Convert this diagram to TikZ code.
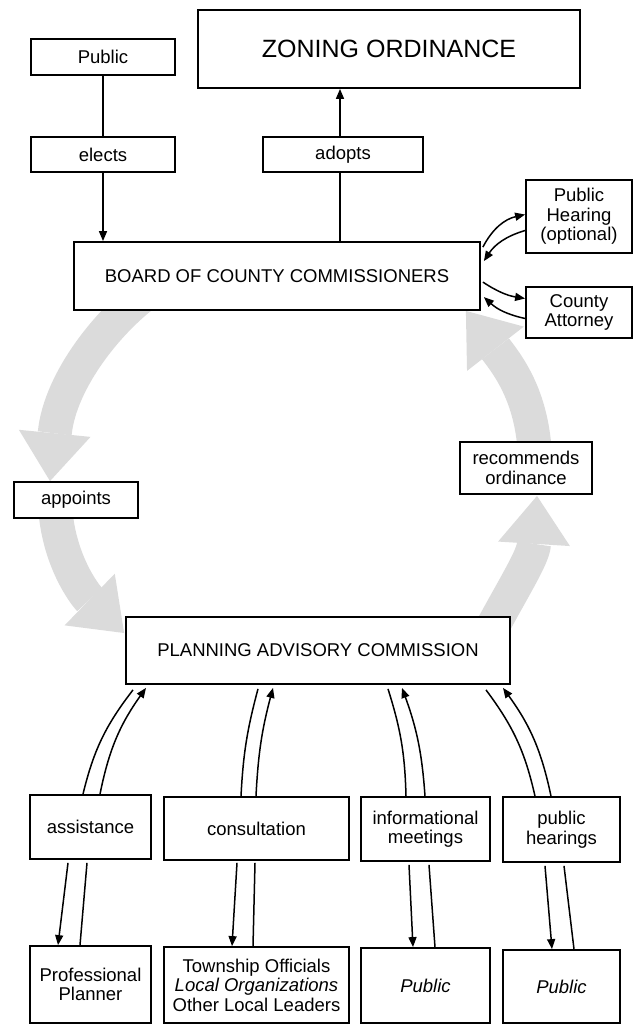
\documentclass[tikz,border=0pt]{standalone}
\usepackage{fontspec}
\setmainfont{Liberation Sans}
\usetikzlibrary{arrows.meta,backgrounds}
\begin{document}
\begin{tikzpicture}[x=1pt,y=-1pt,
  box/.style={draw,line width=1.8pt,fill=white,align=center,inner sep=0pt,font=\fontsize{18.5}{19.5}\selectfont},
  conn/.style={line width=1.5pt},
  arr/.style={conn,-{Triangle[length=10pt,width=8pt]}},
  band/.style={draw=gray!28,line width=34pt,-{Triangle[length=48pt,width=72pt,line width=0pt]}}
]
\useasboundingbox (0,0) rectangle (634,1026);
% top
\node[box,minimum width=144pt,minimum height=36pt] (pub) at (103,57) {Public};
\node[box,minimum width=382pt,minimum height=78pt,font=\fontsize{25}{26}\selectfont] (zon) at (389,49) {ZONING ORDINANCE};
\node[box,minimum width=144pt,minimum height=35pt] (elects) at (103,154.5) {elects};
\node[box,minimum width=160pt,minimum height=35pt] (adopts) at (343,154.5) {adopts};
\node[box,minimum width=406pt,minimum height=68pt] (board) at (277,276) {BOARD OF COUNTY COMMISSIONERS};
\node[box,minimum width=106pt,minimum height=73pt] (ph) at (579,216.5) {Public\\Hearing\\(optional)};
\node[box,minimum width=106pt,minimum height=51pt] (ca) at (579,312.5) {County\\Attorney};
% middle
\node[box,minimum width=124pt,minimum height=36pt] (appoints) at (76,500) {appoints};
\node[box,minimum width=132pt,minimum height=52pt] (rec) at (526,468) {recommends\\ordinance};
\node[box,minimum width=384pt,minimum height=67pt] (pac) at (318,650.5) {PLANNING ADVISORY COMMISSION};
% lower
\node[box,minimum width=121pt,minimum height=64pt] (assist) at (90.5,827) {assistance};
\node[box,minimum width=185pt,minimum height=63pt] (consult) at (256.5,828.5) {consultation};
\node[box,minimum width=129pt,minimum height=64pt] (info) at (425.5,829) {informational\\meetings};
\node[box,minimum width=117pt,minimum height=65pt] (pubhear) at (561.5,829.5) {public\\hearings};
\node[box,minimum width=121pt,minimum height=77pt] (pp) at (90.5,984.5) {Professional\\Planner};
\node[box,minimum width=185pt,minimum height=76pt] (town) at (256.5,985) {Township Officials\\\textit{Local Organizations}\\Other Local Leaders};
\node[box,minimum width=129pt,minimum height=75pt] (pub3) at (425.5,985.5) {\textit{Public}};
\node[box,minimum width=117pt,minimum height=73pt] (pub4) at (561.5,986.5) {\textit{Public}};

% shaded cycle arrows
\begin{scope}[on background layer]
\draw[band] ([shift={(-125,-22)}]board.south) .. controls (110,318) and (60,380) .. ([shift={(-26,0)}]appoints.north);
\draw[band] ([shift={(-21,5)}]appoints.center) .. controls (58,560) and (85,595) .. ([shift={(-1,-17.5)}]pac.west);
\draw[band] ([shift={(152,-15)}]pac.south) .. controls (505,600) and (533,560) .. ([shift={(11,1)}]rec.south);
\draw[band] ([shift={(9,-13)}]rec.center) .. controls (532,400) and (512,370) .. ([shift={(-15,0)}]board.south east);
\end{scope}

% top connectors
\draw[conn] (pub.south) -- (elects.north);
\draw[arr] (elects.south) -- (elects.south |- board.north);
\draw[conn] ([xshift=-3pt]adopts.south |- board.north) -- ([xshift=-3pt]adopts.south);
\draw[arr] ([xshift=-3pt]adopts.north) -- ([xshift=-3pt]adopts.north |- zon.south);
% side connectors
\draw[arr] ([shift={(2,6)}]board.north east) to[bend left=25] ([shift={(0,-2)}]ph.west);
\draw[arr] ([shift={(0,14)}]ph.west) to[bend right=20] ([shift={(3,20)}]board.north east);
\draw[arr] ([shift={(2,41)}]board.north east) to[bend right=12] ([shift={(0,-14)}]ca.west);
\draw[arr] ([shift={(0,6)}]ca.west) to[bend left=15] ([shift={(3,56)}]board.north east);

% assistance
\draw[conn] ([shift={(-7.5,0)}]assist.north) to[bend left=12] ([shift={(-185,5)}]pac.south);
\draw[arr] ([shift={(9.5,0)}]assist.north) to[bend left=12] ([shift={(-172,3)}]pac.south);
\draw[arr] ([shift={(-22.5,3)}]assist.south) -- ([shift={(-32.5,0)}]pp.north);
\draw[conn] ([shift={(-3.5,3)}]assist.south) -- ([shift={(-10.5,0)}]pp.north);
% consultation
\draw[conn] ([shift={(-15.5,0)}]consult.north) to[bend left=6] ([shift={(-60,4)}]pac.south);
\draw[arr] ([shift={(-0.5,0)}]consult.north) to[bend left=6] ([shift={(-45,3)}]pac.south);
\draw[arr] ([shift={(-19.5,2)}]consult.south) -- ([shift={(-24.5,0)}]town.north);
\draw[conn] ([shift={(-1.5,2)}]consult.south) -- ([shift={(-3.5,0)}]town.north);
% informational meetings
\draw[conn] ([shift={(-19.5,0)}]info.north) to[bend right=8] ([shift={(70,4)}]pac.south);
\draw[arr] ([shift={(-0.5,0)}]info.north) to[bend right=8] ([shift={(84,3)}]pac.south);
\draw[arr] ([shift={(-16.5,3)}]info.south) -- ([shift={(-12.5,0)}]pub3.north);
\draw[conn] ([shift={(3.5,3)}]info.south) -- ([shift={(9.5,0)}]pub3.north);
% public hearings
\draw[conn] ([shift={(-26.5,0)}]pubhear.north) to[bend right=12] ([shift={(168,5)}]pac.south);
\draw[arr] ([shift={(-10.5,0)}]pubhear.north) to[bend right=12] ([shift={(185,3)}]pac.south);
\draw[arr] ([shift={(-16.5,3)}]pubhear.south) -- ([shift={(-9.5,0)}]pub4.north);
\draw[conn] ([shift={(2.5,3)}]pubhear.south) -- ([shift={(12.5,0)}]pub4.north);
\end{tikzpicture}
\end{document}
